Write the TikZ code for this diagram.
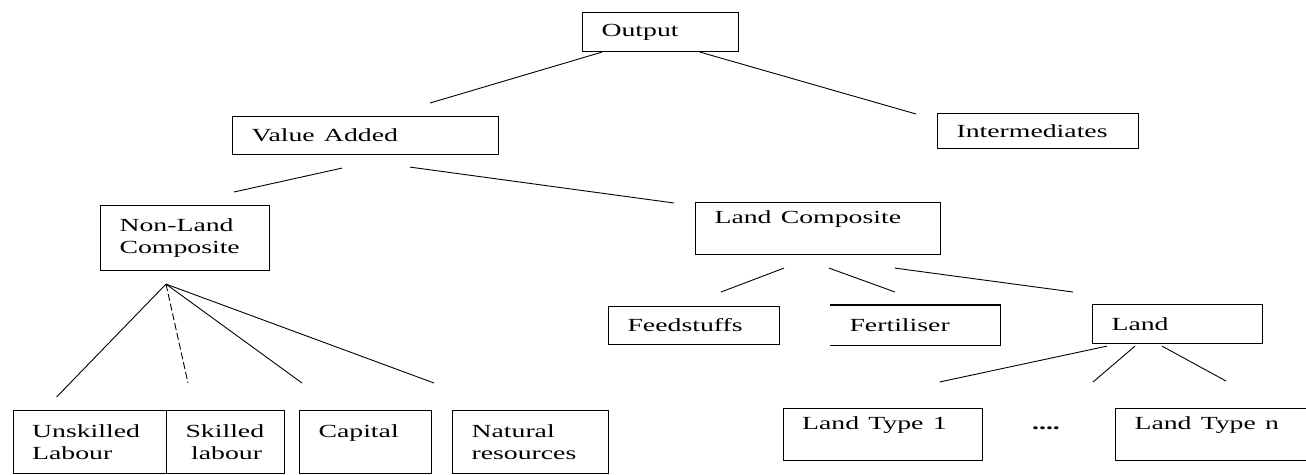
\documentclass[tikz,border=0pt]{standalone}
\usepackage{graphicx}
\usepackage{fontspec}
\setmainfont{Liberation Serif}
\newcommand{\wide}[1]{\scalebox{1.5}[1]{#1}}
\tikzset{
  box/.style={draw, line width=1.1pt, anchor=north west, align=left, inner xsep=19pt, inner ysep=0pt, font=\fontsize{18.5}{22}\selectfont},
  openbox/.style={box, draw=none},
  link/.style={line width=0.9pt},
}
\begin{document}
\begin{tikzpicture}[x=1pt,y=-1pt]
  \path[use as bounding box, fill=white] (0,0) rectangle (1306,474);

  % top levels
  \node[box, text width=118pt, minimum height=39pt] (out) at (582,12) {\wide{Output}};
  \node[box, text width=163pt, minimum height=35pt] (int) at (937,113) {\wide{Intermediates}};
  \node[box, text width=228pt, minimum height=38pt] (va) at (232,116) {\wide{Value Added}};
  \node[box, text width=131pt, minimum height=65pt] (nlc) at (100,205) {\wide{Non-Land}\\\wide{Composite}};
  \node[box, text width=207pt, minimum height=52pt] (lc) at (695,202) {\wide{Land Composite}\\ \mbox{}};

  % land composite inputs
  \node[box, text width=133pt, minimum height=38pt] (feed) at (608,306) {\wide{Feedstuffs}};
  \node[openbox, text width=131pt, minimum height=39pt] (fert) at (830,305) {\wide{Fertiliser}};
  \draw[line width=1.1pt] (fert.north west) -- (fert.north east) -- (fert.south east) -- (fert.south west);
  \node[box, text width=132pt, minimum height=39pt] (land) at (1092,304) {\wide{Land}};

  % non-land inputs
  \node[box, text width=115pt, minimum height=63pt] (ul) at (12.6,410) {\wide{Unskilled}\\\wide{Labour}};
  \node[box, text width=80pt, minimum height=63pt] (sl) at (166,410) {\wide{Skilled}\\\hspace*{0.3em}\wide{labour}};
  \node[box, text width=94pt, minimum height=63pt] (cap) at (299,410) {\wide{Capital}\\ \mbox{}};
  \node[box, text width=118pt, minimum height=63pt] (nr) at (452,410) {\wide{Natural}\\\wide{resources}};

  % land types
  \node[box, text width=161pt, minimum height=52pt] (lt1) at (782.6,408) {\wide{Land Type 1}\\ \mbox{}};
  \node[box, text width=162pt, minimum height=52pt] (ltn) at (1115,408) {\wide{Land Type n}\\ \mbox{}};
  \node[font=\fontsize{18.5}{22}\selectfont\bfseries] (dots) at (1046,428) {\wide{....}};

  % connectors
  \draw[link] ([xshift=20pt]out.south west) -- ([xshift=198pt,yshift=13pt]va.north west);
  \draw[link] ([xshift=118pt]out.south west) -- ([xshift=-21pt,yshift=-1pt]int.north west);
  \draw[link] ([xshift=110pt,yshift=-13pt]va.south west) -- ([xshift=134pt,yshift=13pt]nlc.north west);
  \draw[link] ([xshift=178pt,yshift=-12pt]va.south west) -- ([xshift=-21pt,yshift=-1pt]lc.north west);

  \coordinate (nlcfan) at ([xshift=66pt,yshift=-13pt]nlc.south west);
  \draw[link] (nlcfan) -- ([xshift=44pt,yshift=13pt]ul.north west);
  \draw[link, dash pattern=on 7pt off 3pt] (nlcfan) -- ([xshift=22pt,yshift=27pt]sl.north west);
  \draw[link] (nlcfan) -- ([xshift=3pt,yshift=27pt]cap.north west);
  \draw[link] (nlcfan) -- ([xshift=-18pt,yshift=27pt]nr.north west);

  \draw[link] ([xshift=89pt,yshift=-13pt]lc.south west) -- ([xshift=113pt,yshift=14pt]feed.north west);
  \draw[link] ([xshift=134pt,yshift=-13pt]lc.south west) -- ([xshift=65pt,yshift=13pt]fert.north west);
  \draw[link] ([xshift=200pt,yshift=-13pt]lc.south west) -- ([xshift=-19pt,yshift=12pt]land.north west);

  \draw[link] ([xshift=15pt,yshift=-2pt]land.south west) -- ([xshift=157pt,yshift=26pt]lt1.north west);
  \draw[link] ([xshift=43pt,yshift=-2pt]land.south west) -- ([xshift=-22pt,yshift=26pt]ltn.north west);
  \draw[link] ([xshift=70pt,yshift=-2pt]land.south west) -- ([xshift=111pt,yshift=27pt]ltn.north west);
\end{tikzpicture}
\end{document}
